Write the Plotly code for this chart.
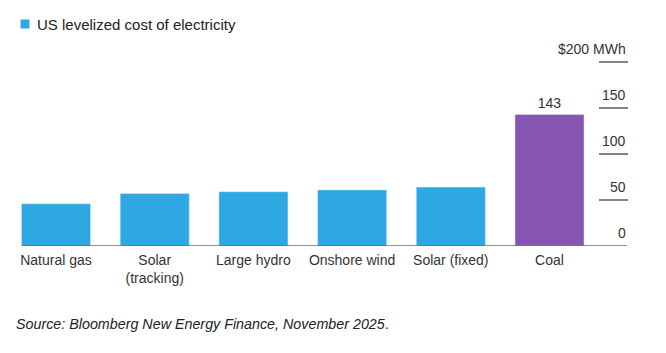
import plotly.graph_objects as go

categories = ["Natural gas", "Solar<br>(tracking)", "Large hydro", "Onshore wind", "Solar (fixed)", "Coal"]
values = [46, 57, 59, 61, 64, 143]
tick_values = [0, 50, 100, 150, 200]
tick_labels = ["0", "50", "100", "150", "$200 MWh"]

BLUE = "#2ea8e2"
PURPLE = "#8756b3"
W, H = 666, 353
ML, MR, MT, MB = 0, 0, 40, 107
plot_h = H - MT - MB
px_per_unit = 0.92
step = 98.7
x0_px = 56

def px_to_x(px):
    return (px - x0_px) / step

def py_paper(y):
    return (H - MB - y) / plot_h

fig = go.Figure()
fig.add_trace(go.Bar(x=categories[:5], y=values[:5], marker_color=BLUE, width=0.7,
                     showlegend=False, hoverinfo="skip"))
fig.add_trace(go.Bar(x=categories[5:], y=values[5:], marker_color=PURPLE, width=0.7,
                     text=[str(v) for v in values[5:]], textposition="outside",
                     textfont=dict(size=14, color="#333333", family="Liberation Sans, Arial"),
                     cliponaxis=False, showlegend=False, hoverinfo="skip"))

shapes = []
# baseline
shapes.append(dict(type="line", xref="x", yref="y", x0=px_to_x(22), x1=px_to_x(627), y0=0, y1=0,
                   line=dict(color="#6b6b6b", width=1.6)))
for tv in tick_values[1:]:
    shapes.append(dict(type="line", xref="x", yref="y", x0=px_to_x(599), x1=px_to_x(628), y0=tv, y1=tv,
                       line=dict(color="#333333", width=1.2)))
# legend square
shapes.append(dict(type="rect", xref="paper", yref="paper", x0=20.5 / W, x1=29.5 / W,
                   y0=py_paper(28.5), y1=py_paper(19.5), fillcolor=BLUE, line=dict(width=0)))

annotations = []
for tv, tl in zip(tick_values, tick_labels):
    annotations.append(dict(x=px_to_x(628), y=tv, xref="x", yref="y", text=tl, showarrow=False,
                            xanchor="right", yanchor="middle", yshift=13,
                            font=dict(size=14, color="#333333", family="Liberation Sans, Arial")))
annotations.append(dict(x=35 / W, y=py_paper(24), xref="paper", yref="paper",
                        text="US levelized cost of electricity", showarrow=False,
                        xanchor="left", yanchor="middle",
                        font=dict(size=15, color="#222222", family="Liberation Sans, Arial")))
annotations.append(dict(x=14 / W, y=py_paper(324), xref="paper", yref="paper",
                        text="<i>Source: Bloomberg New Energy Finance, November 2025</i>.", showarrow=False,
                        xanchor="left", yanchor="middle",
                        font=dict(size=14.3, color="#222222", family="Liberation Sans, Arial")))

fig.update_layout(
    width=W, height=H,
    margin=dict(l=ML, r=MR, t=MT, b=MB),
    paper_bgcolor="white", plot_bgcolor="white",
    barmode="overlay",
    shapes=shapes, annotations=annotations,
    xaxis=dict(type="category", categoryorder="array", categoryarray=categories,
               range=[px_to_x(0), px_to_x(W)], showgrid=False, zeroline=False, showline=False,
               ticks="", ticklabelstandoff=4,
               tickfont=dict(size=14, color="#333333", family="Liberation Sans, Arial"),
               fixedrange=True),
    yaxis=dict(range=[0, plot_h / px_per_unit], showgrid=False, zeroline=False, showline=False,
               showticklabels=False, ticks="", fixedrange=True),
    font=dict(family="Liberation Sans, Arial"),
)

fig.write_html("out.html", config={"displayModeBar": False})
